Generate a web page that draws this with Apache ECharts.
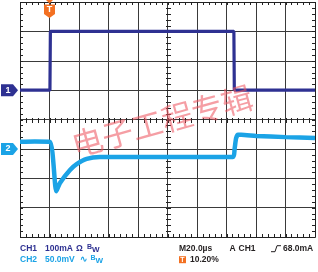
<!DOCTYPE html>
<html>
<head>
<meta charset="utf-8">
<script src="https://cdn.jsdelivr.net/npm/echarts@6/dist/echarts.min.js"></script>
<style>
html,body{margin:0;padding:0;background:#fff;}
#c{width:318px;height:272px;}
</style>
</head>
<body>
<div id="c"></div>
<script>
// Time axis (µs), 20 µs/div (5 minor ticks per div), trigger at 0
const timeMin = -20, timeMax = 180, timeStep = 20, timeMinorStep = 4, timeCenter = 80;
// CH1: current (mA), 100 mA/div
const ch1Min = -500, ch1Max = 300, ch1Step = 100, ch1MinorStep = 20, ch1Center = -100;
const ch1Time = [-20, 0.3, 0.6, 125.0, 125.3, 180];
const ch1Current = [0, 0, 200, 200, 0, 0];
// CH2: voltage (mV), 50 mV/div
const ch2Min = -150, ch2Max = 250, ch2Step = 50;
const ch2Time = [-20, -10, 0.3, 4.6, 7.1, 13.9, 18.4, 25.2, 34.2, 124.4, 125.5, 126.5, 127.8, 130, 140, 160, 180];
const ch2Voltage = [12, 12.5, 12, -72, -58, -36, -26, -17, -14, -14, 0, 18, 24, 24, 22, 20, 18.5];
// Texts
const ch1Label = ['CH1', '100mA', 'Ω'];
const ch2Label = ['CH2', '50.0mV', '∿'];
const timebaseLabel = 'M20.0µs';
const triggerLabel = ['A', 'CH1', '68.0mA'];
const triggerPosLabel = '10.20%';
const watermark = '电子工程专辑';

const C1 = '#2e3192', C2 = '#1ba3e6', ORANGE = '#f37021', TXT = '#231f20', TICK = '#222';
const FONT = '"Liberation Sans", Arial, sans-serif';

const chart = echarts.init(document.getElementById('c'), null, {renderer: 'canvas'});
const gridL = 20, gridT = 2, gridW = 295, gridH = 235;

function gridAxis(min, max, step, position, showSplit) {
  return {
    type: 'value', min: min, max: max, interval: step, position: position,
    axisLabel: {show: false}, axisTick: {show: false}, minorTick: {show: false},
    axisLine: {show: false, onZero: false},
    splitLine: {show: showSplit, lineStyle: {color: '#3a3a3a', width: 1}}
  };
}

function buildOption(graphics) {
  return {
    animation: false,
    backgroundColor: '#fff',
    grid: {left: gridL, top: gridT, width: gridW, height: gridH},
    xAxis: [gridAxis(timeMin, timeMax, timeStep, 'bottom', true)],
    yAxis: [
      gridAxis(ch1Min, ch1Max, ch1Step, 'left', true),
      gridAxis(ch2Min, ch2Max, ch2Step, 'right', false)
    ],
    series: [
      {
        type: 'line', name: 'CH1', xAxisIndex: 0, yAxisIndex: 0,
        data: ch1Time.map((t, i) => [t, ch1Current[i]]),
        showSymbol: false, symbol: 'none', z: 5,
        lineStyle: {color: C1, width: 3.2}
      },
      {
        type: 'line', name: 'CH2', xAxisIndex: 0, yAxisIndex: 1,
        data: ch2Time.map((t, i) => [t, ch2Voltage[i]]),
        showSymbol: false, symbol: 'none', z: 4, smooth: 0.2,
        lineStyle: {color: C2, width: 4.5}
      }
    ],
    graphic: graphics
  };
}
chart.setOption(buildOption([]));

// positions from the axes
const px = v => chart.convertToPixel({xAxisIndex: 0}, v);
const py = v => chart.convertToPixel({yAxisIndex: 0}, v);
const y1 = py(0);
const y2 = chart.convertToPixel({yAxisIndex: 1}, 0);
const xt = px(0);
const xL = Math.round(px(timeMin)), xR = Math.round(px(timeMax)), xC = Math.round(px(timeCenter));
const yT = Math.round(py(ch1Max)), yB = Math.round(py(ch1Min)), yC = Math.round(py(ch1Center));

function seg(x1, y1_, x2, y2_) {
  return {type: 'line', shape: {x1: x1, y1: y1_, x2: x2, y2: y2_}, style: {stroke: TICK, lineWidth: 1}, z: 3, silent: true};
}
// graticule ticks: 5 per division on the border (inside) and on the centre lines (both sides)
const tickMarks = [];
for (let t = timeMin; t <= timeMax + 1e-9; t += timeMinorStep) {
  const x = Math.round(px(t)) + 0.5;
  tickMarks.push(seg(x, yB, x, yB - 3));
  tickMarks.push(seg(x, yT, x, yT + 3));
  tickMarks.push(seg(x, yC - 2, x, yC + 3));
}
for (let v = ch1Min; v <= ch1Max + 1e-9; v += ch1MinorStep) {
  const y = Math.round(py(v)) + 0.5;
  tickMarks.push(seg(xL, y, xL + 3, y));
  tickMarks.push(seg(xR, y, xR - 3, y));
  tickMarks.push(seg(xC - 2, y, xC + 3, y));
}
// border frame
tickMarks.push({type: 'rect', shape: {x: xL + 0.5, y: yT + 0.5, width: xR - xL, height: yB - yT}, style: {stroke: TICK, fill: null, lineWidth: 1}, z: 3, silent: true});

function chMarker(y, color, label) {
  return [
    {type: 'polygon', shape: {points: [[1, y - 6], [13, y - 6], [18, y], [13, y + 6], [1, y + 6]]}, style: {fill: color}, z: 10},
    {type: 'text', x: 8, y: y, style: {text: label, fill: '#fff', font: 'bold 9px ' + FONT, textAlign: 'center', textVerticalAlign: 'middle'}, z: 11}
  ];
}
function txt(x, y, s, color, size) {
  return {type: 'text', x: x, y: y, style: {text: s, fill: color, font: 'bold ' + (size || 8.5) + 'px ' + FONT, textVerticalAlign: 'middle'}, z: 10};
}

const r1 = 248.7, r2 = 259.7;
const graphics = [].concat(
  tickMarks,
  chMarker(y1, C1, '1'),
  chMarker(y2, C2, '2'),
  [
    {type: 'polygon', shape: {points: [[xt - 3.5, 0], [xt + 3.5, 0], [xt, 3.5]]}, style: {fill: ORANGE}, z: 10},
    {type: 'polygon', shape: {points: [[xt - 5.5, 4.5], [xt + 5.5, 4.5], [xt + 5.5, 14], [xt, 18], [xt - 5.5, 14]]}, style: {fill: ORANGE}, z: 10},
    {type: 'text', x: xt, y: 10, style: {text: 'T', fill: '#fff', font: 'bold 9px ' + FONT, textAlign: 'center', textVerticalAlign: 'middle'}, z: 11},
    // watermark
    {type: 'text', x: 162, y: 121, rotation: 0.27, style: {text: watermark, fill: 'rgba(238,88,98,0.58)', font: '31px "Noto Sans CJK SC"', textAlign: 'center', textVerticalAlign: 'middle'}, z: 20},
    // bottom-left legend
    txt(20, r1, ch1Label[0], C1), txt(45, r1, ch1Label[1], C1), txt(76, r1, ch1Label[2], C1),
    txt(87, r1 - 2, 'B', C1, 7), txt(92, r1 + 1.5, 'W', C1, 8),
    txt(20, r2, ch2Label[0], C2), txt(45, r2, ch2Label[1], C2), txt(80, r2, ch2Label[2], C2),
    txt(90.5, r2 - 2, 'B', C2, 7), txt(95.5, r2 + 1.5, 'W', C2, 8),
    // bottom-right
    txt(179, r1, timebaseLabel, TXT),
    txt(229.5, r1, triggerLabel[0], TXT), txt(238.5, r1, triggerLabel[1], TXT),
    {type: 'polyline', shape: {points: [[271, r1 + 3], [275, r1 + 3], [277, r1 - 3], [281, r1 - 3]]}, style: {stroke: TXT, lineWidth: 1, fill: null}, z: 10},
    txt(283, r1, triggerLabel[2], TXT),
    {type: 'rect', shape: {x: 179, y: r2 - 3.5, width: 7, height: 7}, style: {fill: ORANGE}, z: 10},
    {type: 'text', x: 182.5, y: r2, style: {text: 'T', fill: '#fff', font: 'bold 7px ' + FONT, textAlign: 'center', textVerticalAlign: 'middle'}, z: 11},
    txt(190, r2, triggerPosLabel, TXT)
  ]
);
chart.setOption(buildOption(graphics), true);
</script>
</body>
</html>
